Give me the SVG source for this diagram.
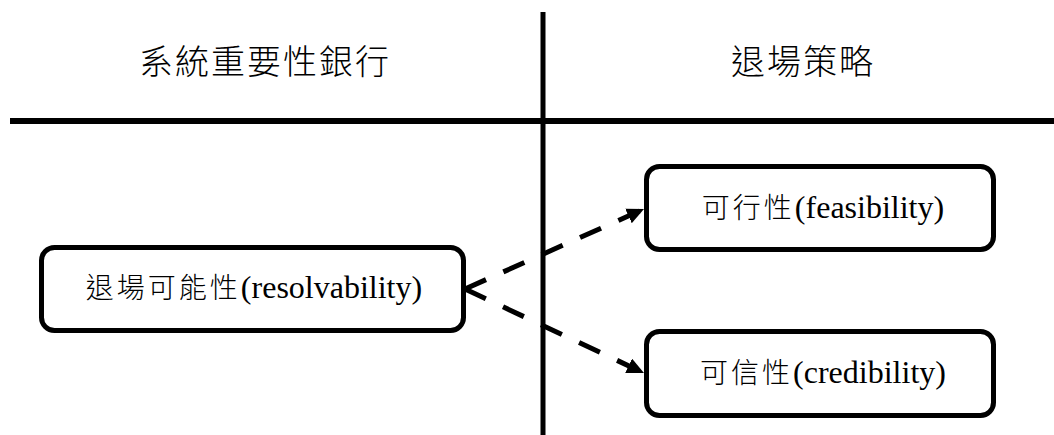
<svg xmlns="http://www.w3.org/2000/svg" width="1054" height="435" viewBox="0 0 1054 435">
  <style>
    .rule { stroke: #000; fill: none; }
    .box { fill: #fff; stroke: #000; stroke-width: 5; }
    .head { font-family: "Liberation Serif", "Noto Sans CJK TC", serif; font-size: 34px; font-weight: 300; letter-spacing: 2px; fill: #000; text-anchor: middle; }
    .label { font-family: "Liberation Serif", "Noto Sans CJK TC", serif; font-size: 32px; fill: #000; text-anchor: middle; }
    .cjk { font-size: 28px; font-weight: 300; letter-spacing: 3px; }
    .link { stroke: #000; stroke-width: 5; fill: none; stroke-dasharray: 23 19; }
  </style>
  <defs>
    <marker id="arrow" markerUnits="userSpaceOnUse" markerWidth="18" markerHeight="16" refX="17" refY="8" orient="auto">
      <path d="M0,0 L17,8 L0,16 Z" fill="#000"/>
    </marker>
  </defs>
  <rect width="1054" height="435" fill="#fff"/>

  <!-- table rules -->
  <g id="rules">
    <line class="rule" x1="543" y1="12" x2="543" y2="435" stroke-width="5"/>
    <line class="rule" x1="10" y1="121" x2="1054" y2="121" stroke-width="6"/>
  </g>

  <!-- column headings -->
  <g id="heading-left">
    <text class="head" x="265" y="74">系統重要性銀行</text>
  </g>
  <g id="heading-right">
    <text class="head" x="803" y="74">退場策略</text>
  </g>

  <!-- dashed connectors -->
  <g id="connectors">
    <line class="link" x1="465" y1="289" x2="644" y2="209" marker-end="url(#arrow)"/>
    <line class="link" x1="465" y1="289" x2="644" y2="373" marker-end="url(#arrow)"/>
  </g>

  <g id="node-resolvability">
    <rect class="box" x="41.5" y="247.5" width="422" height="83" rx="13"/>
    <text class="label" x="254" y="298"><tspan class="cjk">退場可能性</tspan>(resolvability)</text>
  </g>
  <g id="node-feasibility">
    <rect class="box" x="646.5" y="166.5" width="347" height="83" rx="13"/>
    <text class="label" x="823" y="218"><tspan class="cjk">可行性</tspan>(feasibility)</text>
  </g>
  <g id="node-credibility">
    <rect class="box" x="646.5" y="331.5" width="347" height="84" rx="13"/>
    <text class="label" x="823" y="383"><tspan class="cjk">可信性</tspan>(credibility)</text>
  </g>
</svg>
